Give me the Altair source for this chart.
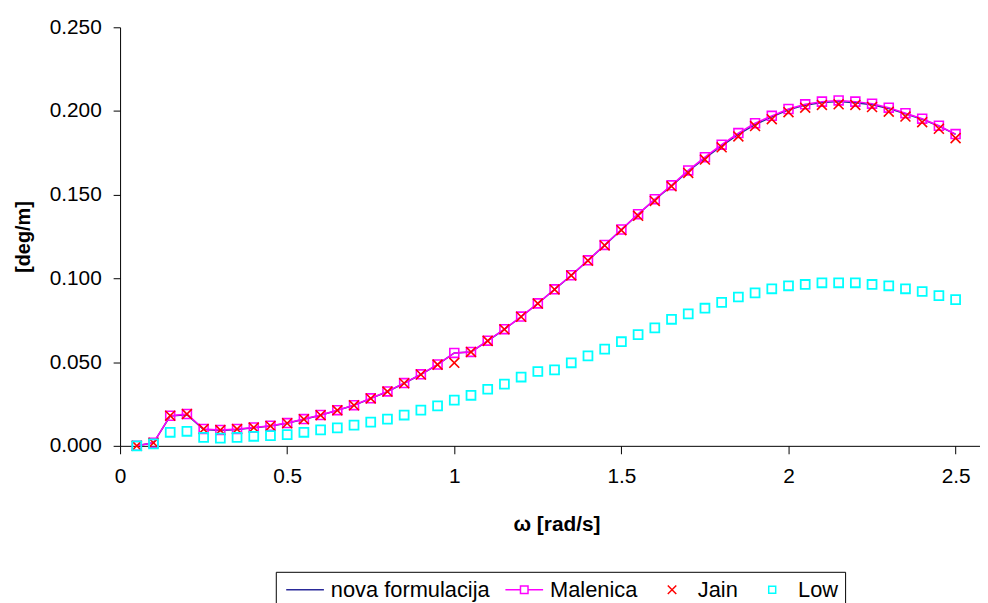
import altair as alt
import pandas as pd

omega = [0.05, 0.10, 0.15, 0.20, 0.25, 0.30, 0.35, 0.40, 0.45, 0.50,
         0.55, 0.60, 0.65, 0.70, 0.75, 0.80, 0.85, 0.90, 0.95, 1.00,
         1.05, 1.10, 1.15, 1.20, 1.25, 1.30, 1.35, 1.40, 1.45, 1.50,
         1.55, 1.60, 1.65, 1.70, 1.75, 1.80, 1.85, 1.90, 1.95, 2.00,
         2.05, 2.10, 2.15, 2.20, 2.25, 2.30, 2.35, 2.40, 2.45, 2.50]

malenica = [0.0000, 0.0018, 0.0180, 0.0190, 0.0101, 0.0095, 0.0101, 0.0110, 0.0120, 0.0136,
            0.0160, 0.0184, 0.0213, 0.0243, 0.0284, 0.0325, 0.0375, 0.0427, 0.0486, 0.0555,
            0.0561, 0.0628, 0.0697, 0.0772, 0.0851, 0.0935, 0.1019, 0.1108, 0.1200, 0.1292,
            0.1384, 0.1473, 0.1556, 0.1645, 0.1724, 0.1799, 0.1868, 0.1927, 0.1971, 0.2012,
            0.2040, 0.2056, 0.2063, 0.2056, 0.2044, 0.2020, 0.1987, 0.1954, 0.1912, 0.1862]

nova = [0.0000, 0.0018, 0.0178, 0.0186, 0.0097, 0.0091, 0.0097, 0.0108, 0.0119, 0.0135,
        0.0159, 0.0183, 0.0212, 0.0242, 0.0283, 0.0324, 0.0374, 0.0426, 0.0485, 0.0555,
        0.0560, 0.0627, 0.0696, 0.0771, 0.0850, 0.0934, 0.1018, 0.1107, 0.1199, 0.1291,
        0.1383, 0.1471, 0.1553, 0.1640, 0.1719, 0.1792, 0.1860, 0.1918, 0.1965, 0.2007,
        0.2035, 0.2050, 0.2056, 0.2049, 0.2037, 0.2015, 0.1984, 0.1951, 0.1910, 0.1860]

jain = [0.0000, 0.0018, 0.0180, 0.0190, 0.0100, 0.0094, 0.0100, 0.0109, 0.0119, 0.0135,
        0.0159, 0.0183, 0.0212, 0.0242, 0.0283, 0.0324, 0.0374, 0.0426, 0.0485, 0.0496,
        0.0561, 0.0627, 0.0696, 0.0771, 0.0850, 0.0934, 0.1018, 0.1106, 0.1197, 0.1288,
        0.1374, 0.1463, 0.1550, 0.1630, 0.1710, 0.1783, 0.1848, 0.1910, 0.1951, 0.1993,
        0.2020, 0.2036, 0.2040, 0.2036, 0.2024, 0.1996, 0.1967, 0.1933, 0.1894, 0.1838]

low = [0.0000, 0.0012, 0.0081, 0.0087, 0.0051, 0.0046, 0.0051, 0.0057, 0.0061, 0.0067,
       0.0081, 0.0095, 0.0107, 0.0124, 0.0142, 0.0160, 0.0184, 0.0213, 0.0239, 0.0273,
       0.0302, 0.0338, 0.0369, 0.0411, 0.0444, 0.0454, 0.0496, 0.0537, 0.0578, 0.0622,
       0.0664, 0.0705, 0.0756, 0.0788, 0.0822, 0.0857, 0.0889, 0.0914, 0.0938, 0.0956,
       0.0964, 0.0974, 0.0974, 0.0974, 0.0964, 0.0956, 0.0938, 0.0922, 0.0897, 0.0873]

series_names = ["nova formulacija", "Malenica", "Jain", "Low"]
series_colors = ["#2a2a99", "#FF00FF", "#FF0000", "#00FFFF"]
x_ticks = [0, 0.5, 1, 1.5, 2, 2.5]
y_ticks = [0, 0.05, 0.10, 0.15, 0.20, 0.25]

rows = []
for name, vals in zip(series_names, [nova, malenica, jain, low]):
    for w, v in zip(omega, vals):
        rows.append({"omega": w, "value": v, "series": name})
df = pd.DataFrame(rows)

FONT = "Liberation Sans"

x_enc = alt.X("omega:Q",
              scale=alt.Scale(domain=[0, 2.573], nice=False, zero=False),
              axis=alt.Axis(values=x_ticks, format="~g", title="ω [rad/s]",
                            grid=False, tickSize=8, labelPadding=12,
                            labelFontSize=21, titleFontSize=21, titleFontWeight="bold",
                            titlePadding=27, titleX=440, titleAlign="center",
                            labelFlush=False))
y_enc = alt.Y("value:Q",
              scale=alt.Scale(domain=[0, 0.25], nice=False),
              axis=alt.Axis(values=y_ticks, format=".3f", title="[deg/m]",
                            grid=False, tickSize=7, labelPadding=12,
                            labelFontSize=21, titleFontSize=20, titleFontWeight="bold",
                            titlePadding=16))

base = alt.Chart(df)

nova_line = base.transform_filter(alt.datum.series == "nova formulacija").mark_line(
    color=series_colors[0], strokeWidth=1.5).encode(x=x_enc, y=y_enc)

mal_line = base.transform_filter(alt.datum.series == "Malenica").mark_line(
    color=series_colors[1], strokeWidth=1.5).encode(x=x_enc, y=y_enc)

mal_pts = base.transform_filter(alt.datum.series == "Malenica").mark_point(
    shape="square", size=81, filled=False, color=series_colors[1], strokeWidth=1.6,
    opacity=1).encode(x=x_enc, y=y_enc)

jain_pts = base.transform_filter(alt.datum.series == "Jain").mark_point(
    shape="M-1,-1L1,1M-1,1L1,-1", size=100, filled=False, color=series_colors[2],
    strokeWidth=1.6, opacity=1).encode(x=x_enc, y=y_enc)

low_pts = base.transform_filter(alt.datum.series == "Low").mark_point(
    shape="square", size=81, filled=False, color=series_colors[3], strokeWidth=1.8,
    opacity=1).encode(x=x_enc, y=y_enc)

legend_shapes = [
    "M-2,0L2,0",
    "M-2,0L-0.4,0M0.4,0L2,0M-0.4,-0.4L0.4,-0.4L0.4,0.4L-0.4,0.4Z",
    "M-0.45,-0.45L0.45,0.45M-0.45,0.45L0.45,-0.45",
    "M-0.37,-0.37L0.37,-0.37L0.37,0.37L-0.37,0.37Z",
]

leg = alt.Legend(title=None, orient="none", legendX=157, legendY=549,
                 direction="horizontal", columns=4, symbolSize=361,
                 symbolStrokeWidth=1.5, symbolOpacity=1, symbolFillColor="white",
                 symbolOffset=11.5, labelOffset=15, columnPadding=12,
                 labelFont=FONT, labelFontSize=22, labelColor="black",
                 labelLimit=400, padding=7, strokeColor="black")

legend_layer = base.mark_point(filled=False, opacity=0, size=1).encode(
    x=x_enc, y=y_enc,
    color=alt.Color("series:N", scale=alt.Scale(domain=series_names, range=series_colors), legend=leg),
    shape=alt.Shape("series:N", scale=alt.Scale(domain=series_names, range=legend_shapes), legend=leg),
)

chart = alt.layer(nova_line, mal_line, mal_pts, jain_pts, low_pts, legend_layer).properties(
    width=867, height=422,
    autosize=alt.AutoSizeParams(type="none"),
    padding={"left": 113, "top": 17, "right": 0, "bottom": 156},
    background="white",
).configure_view(stroke=None).configure_axis(
    domainColor="black", tickColor="black", labelColor="black", titleColor="black",
    labelFont=FONT, titleFont=FONT, domainWidth=1, tickWidth=1,
).configure_legend(strokeWidth=1)

chart.save("out.html", embed_options={"renderer": "svg", "actions": False})
